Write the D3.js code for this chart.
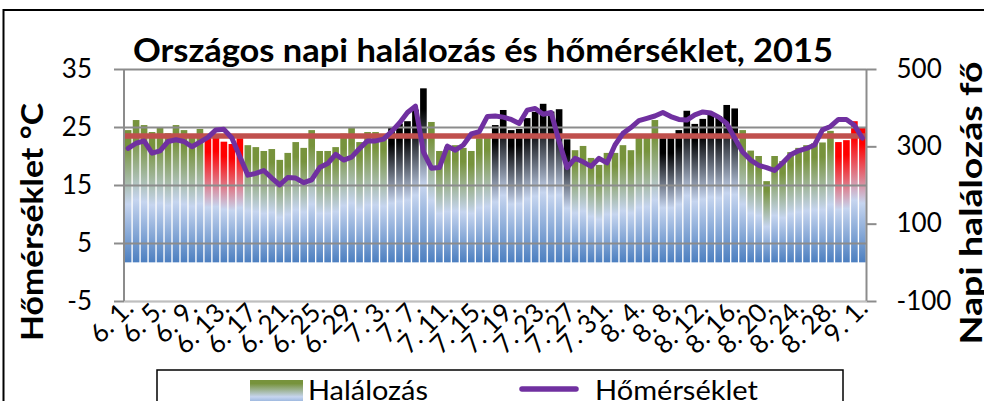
<!DOCTYPE html>
<html>
<head>
<meta charset="utf-8">
<script src="https://cdn.jsdelivr.net/npm/d3@7"></script>
<style>
  body { margin: 0; background: #fff; }
  svg { display: block; font-family: Lato, "Open Sans", sans-serif; }
</style>
</head>
<body>
<div id="chart"></div>
<script>
const days = [
  "6. 1.","6. 2.","6. 3.","6. 4.","6. 5.","6. 6.","6. 7.","6. 8.","6. 9.","6. 10.",
  "6. 11.","6. 12.","6. 13.","6. 14.","6. 15.","6. 16.","6. 17.","6. 18.","6. 19.","6. 20.",
  "6. 21.","6. 22.","6. 23.","6. 24.","6. 25.","6. 26.","6. 27.","6. 28.","6. 29.","6. 30.",
  "7. 1.","7. 2.","7. 3.","7. 4.","7. 5.","7. 6.","7. 7.","7. 8.","7. 9.","7. 10.",
  "7. 11.","7. 12.","7. 13.","7. 14.","7. 15.","7. 16.","7. 17.","7. 18.","7. 19.","7. 20.",
  "7. 21.","7. 22.","7. 23.","7. 24.","7. 25.","7. 26.","7. 27.","7. 28.","7. 29.","7. 30.",
  "7. 31.","8. 1.","8. 2.","8. 3.","8. 4.","8. 5.","8. 6.","8. 7.","8. 8.","8. 9.",
  "8. 10.","8. 11.","8. 12.","8. 13.","8. 14.","8. 15.","8. 16.","8. 17.","8. 18.","8. 19.",
  "8. 20.","8. 21.","8. 22.","8. 23.","8. 24.","8. 25.","8. 26.","8. 27.","8. 28.","8. 29.",
  "8. 30.","8. 31.","9. 1."
]

// daily deaths (right axis)
const deaths = [
  342,368,355,337,348,334,355,342,330,345,
  324,327,312,306,321,303,298,288,293,265,
  283,311,296,342,288,288,298,333,348,311,
  337,337,330,348,359,365,395,450,363,288,
  299,303,296,288,321,329,355,394,342,345,
  373,389,410,390,396,318,290,301,270,252,
  283,283,303,290,323,327,368,321,321,342,
  392,358,371,384,378,407,398,342,289,275,
  210,275,262,285,296,303,308,310,340,311,
  316,365,348
]

// daily mean temperature (left axis)
const temps = [
  21.3,22.2,22.6,20.5,20.9,22.5,22.8,22.5,21.6,22.4,
  23.2,24.5,24.6,23.1,19.9,16.7,17.0,17.5,16.2,15.0,
  16.3,16.2,15.4,15.9,18.0,18.7,20.3,19.3,19.8,21.3,
  22.6,22.6,22.9,24.2,25.7,27.5,28.6,20.7,17.9,18.0,
  21.7,21.0,21.9,23.8,24.2,26.8,26.9,26.7,26.3,25.6,
  27.9,28.2,27.2,27.5,22.5,18.0,19.6,19.0,18.2,19.6,
  18.8,21.9,23.9,24.9,26.1,26.5,26.9,27.5,26.8,26.3,
  26.2,27.1,27.6,27.4,26.7,25.6,23.1,20.7,19.3,18.4,
  18.0,17.5,18.8,20.2,20.9,21.3,21.9,24.5,25.1,26.3,
  26.3,25.3,23.1
]

// bar colour group: g = normal, r = red, b = black
const groups = [
  "g","g","g","g","g","g","g","g","g","g",
  "r","r","r","r","r","g","g","g","g","g",
  "g","g","g","g","g","g","g","g","g","g",
  "g","g","g","b","b","b","b","b","g","g",
  "g","g","g","g","g","g","b","b","b","b",
  "b","b","b","b","b","b","g","g","g","g",
  "g","g","g","g","g","g","g","b","b","b",
  "b","b","b","b","b","b","b","g","g","g",
  "g","g","g","g","g","g","g","g","g","r",
  "r","r","r"
]

const threshold = 327
const tempTicks = [-5, 5, 15, 25, 35]
const deathTicks = [-100, 100, 300, 500]
const labelDays = days.filter((d, i) => i % 4 == 0)

async function drawChart() {

  // 1. Access data
  const dataset = days.map((d, i) => ({day: d, deaths: deaths[i], temp: temps[i], group: groups[i]}))
  const xAccessor = d => d.day
  const deathAccessor = d => d.deaths
  const tempAccessor = d => d.temp

  // 2. Dimensions
  let dimensions = {
    width: 984,
    height: 401,
    margin: {top: 69, right: 117.5, bottom: 100, left: 124},
  }
  dimensions.boundedWidth = dimensions.width - dimensions.margin.left - dimensions.margin.right
  dimensions.boundedHeight = dimensions.height - dimensions.margin.top - dimensions.margin.bottom

  // 3. Canvas
  const wrapper = d3.select("#chart").append("svg")
      .attr("width", dimensions.width)
      .attr("height", dimensions.height)

  const defs = wrapper.append("defs")
  const topColors = {g: "#77933c", b: "#000000", r: "#ff0000"}
  Object.entries(topColors).forEach(([key, color]) => {
    const grad = defs.append("linearGradient")
        .attr("id", "grad-" + key)
        .attr("x1", 0).attr("y1", 0).attr("x2", 0).attr("y2", 1)
    grad.append("stop").attr("offset", "0").attr("stop-color", color)
    grad.append("stop").attr("offset", "0.12").attr("stop-color", color)
    grad.append("stop").attr("offset", "0.56").attr("stop-color", "#c6d5ef")
    grad.append("stop").attr("offset", "1").attr("stop-color", "#4c7fc0")
  })

  // outer chart frame (cut by the picture edge)
  wrapper.append("rect")
      .attr("x", 3.5).attr("y", 10)
      .attr("width", 1000).attr("height", 500)
      .attr("fill", "none").attr("stroke", "#000").attr("stroke-width", 2)

  const bounds = wrapper.append("g")
      .attr("transform", `translate(${dimensions.margin.left}, ${dimensions.margin.top})`)

  // 4. Scales
  const xScale = d3.scaleBand()
    .domain(dataset.map(xAccessor))
    .range([0, dimensions.boundedWidth])
    .paddingInner(0.17)
    .paddingOuter(0.1)

  const tempScale = d3.scaleLinear()
    .domain([-5, 35])
    .range([dimensions.boundedHeight, 0])

  const deathScale = d3.scaleLinear()
    .domain([-100, 500])
    .range([dimensions.boundedHeight, 0])

  // 5. Draw data
  bounds.selectAll(".bar")
    .data(dataset)
    .enter().append("rect")
      .attr("class", "bar")
      .attr("x", d => xScale(xAccessor(d)))
      .attr("y", d => deathScale(deathAccessor(d)))
      .attr("width", xScale.bandwidth())
      .attr("height", d => deathScale(0) - deathScale(deathAccessor(d)))
      .attr("fill", d => `url(#grad-${d.group})`)

  // gridlines
  const grid = bounds.append("g")
    .call(d3.axisLeft(tempScale).tickValues(tempTicks).tickSize(-dimensions.boundedWidth).tickFormat(""))
  grid.select(".domain").remove()
  grid.selectAll("line").attr("stroke", "#8c8c8c").attr("stroke-width", 2)
  grid.selectAll(".tick").filter(d => d == -5).select("line").attr("stroke", "#c0c0c0")

  // threshold line
  bounds.append("line")
      .attr("x1", 0).attr("x2", dimensions.boundedWidth)
      .attr("y1", deathScale(threshold)).attr("y2", deathScale(threshold))
      .attr("stroke", "#c0504d").attr("stroke-width", 5.5)

  // temperature line
  const lineGenerator = d3.line()
    .x(d => xScale(xAccessor(d)) + xScale.bandwidth() / 2)
    .y(d => tempScale(tempAccessor(d)))

  bounds.append("path")
      .attr("d", lineGenerator(dataset))
      .attr("fill", "none")
      .attr("stroke", "#7030a0")
      .attr("stroke-width", 5)
      .attr("stroke-linejoin", "round")
      .attr("stroke-linecap", "round")

  // 6. Axes
  const plainFormat = d => String(d)
  const yAxis = bounds.append("g")
    .call(d3.axisLeft(tempScale).tickValues(tempTicks).tickFormat(plainFormat).tickSize(10).tickPadding(22))
  const yAxisRight = bounds.append("g")
    .attr("transform", `translate(${dimensions.boundedWidth}, 0)`)
    .call(d3.axisRight(deathScale).tickValues(deathTicks).tickFormat(plainFormat).tickSize(10).tickPadding(20))

  ;[yAxis, yAxisRight].forEach(axis => {
    axis.select(".domain").attr("stroke", "#8c8c8c").attr("stroke-width", 2)
    axis.selectAll(".tick line").attr("stroke", "#8c8c8c").attr("stroke-width", 2)
    axis.selectAll(".tick text")
      .attr("font-size", 26)
      .attr("font-family", "Lato, sans-serif")
      .attr("fill", "#000")
  })
  yAxisRight.select(".domain").attr("d", `M0,0V${dimensions.boundedHeight}`)
  yAxis.select(".domain").attr("d", `M0,0V${dimensions.boundedHeight}`)

  const xAxis = bounds.append("g")
    .attr("transform", `translate(0, ${dimensions.boundedHeight})`)
    .call(d3.axisBottom(xScale).tickValues(labelDays).tickSize(0).tickPadding(0))
  xAxis.select(".domain").attr("stroke", "#bfbfbf").attr("stroke-width", 1.5)
  xAxis.selectAll(".tick text")
      .attr("font-size", 26)
      .attr("font-family", "Lato, sans-serif")
      .attr("fill", "#000")
      .attr("text-anchor", "end")
      .attr("y", 0).attr("dy", 0)
      .attr("transform", "translate(7, 9) rotate(-45)")

  // 7. Titles
  wrapper.append("text")
      .attr("x", 483).attr("y", 62)
      .attr("text-anchor", "middle")
      .attr("font-size", 32).attr("font-weight", "bold")
      .attr("textLength", 700).attr("lengthAdjust", "spacingAndGlyphs")
      .text("Országos napi halálozás és hőmérséklet, 2015")

  wrapper.append("text")
      .attr("transform", "translate(43, 222) rotate(-90)")
      .attr("text-anchor", "middle")
      .attr("font-size", 30).attr("font-weight", "bold")
      .attr("textLength", 238).attr("lengthAdjust", "spacingAndGlyphs")
      .text("Hőmérséklet °C")

  wrapper.append("text")
      .attr("transform", "translate(982, 203) rotate(-90)")
      .attr("text-anchor", "middle")
      .attr("font-size", 31).attr("font-weight", "bold")
      .attr("textLength", 283).attr("lengthAdjust", "spacingAndGlyphs")
      .text("Napi halálozás fő")

  // 8. Legend
  const legend = wrapper.append("g")
  legend.append("rect")
      .attr("x", 157).attr("y", 370)
      .attr("width", 686).attr("height", 60)
      .attr("fill", "#fff").attr("stroke", "#000").attr("stroke-width", 1.5)
  legend.append("rect")
      .attr("x", 250).attr("y", 380)
      .attr("width", 53).attr("height", 30)
      .attr("fill", "url(#grad-g)")
  legend.append("text")
      .attr("x", 308).attr("y", 400)
      .attr("font-size", 27)
      .attr("textLength", 120).attr("lengthAdjust", "spacingAndGlyphs")
      .text("Halálozás")
  legend.append("line")
      .attr("x1", 522).attr("x2", 576)
      .attr("y1", 389).attr("y2", 389)
      .attr("stroke", "#7030a0").attr("stroke-width", 5.5)
      .attr("stroke-linecap", "round")
  legend.append("text")
      .attr("x", 595).attr("y", 400)
      .attr("font-size", 27)
      .attr("textLength", 163).attr("lengthAdjust", "spacingAndGlyphs")
      .text("Hőmérséklet")
}
drawChart()
</script>
</body>
</html>
